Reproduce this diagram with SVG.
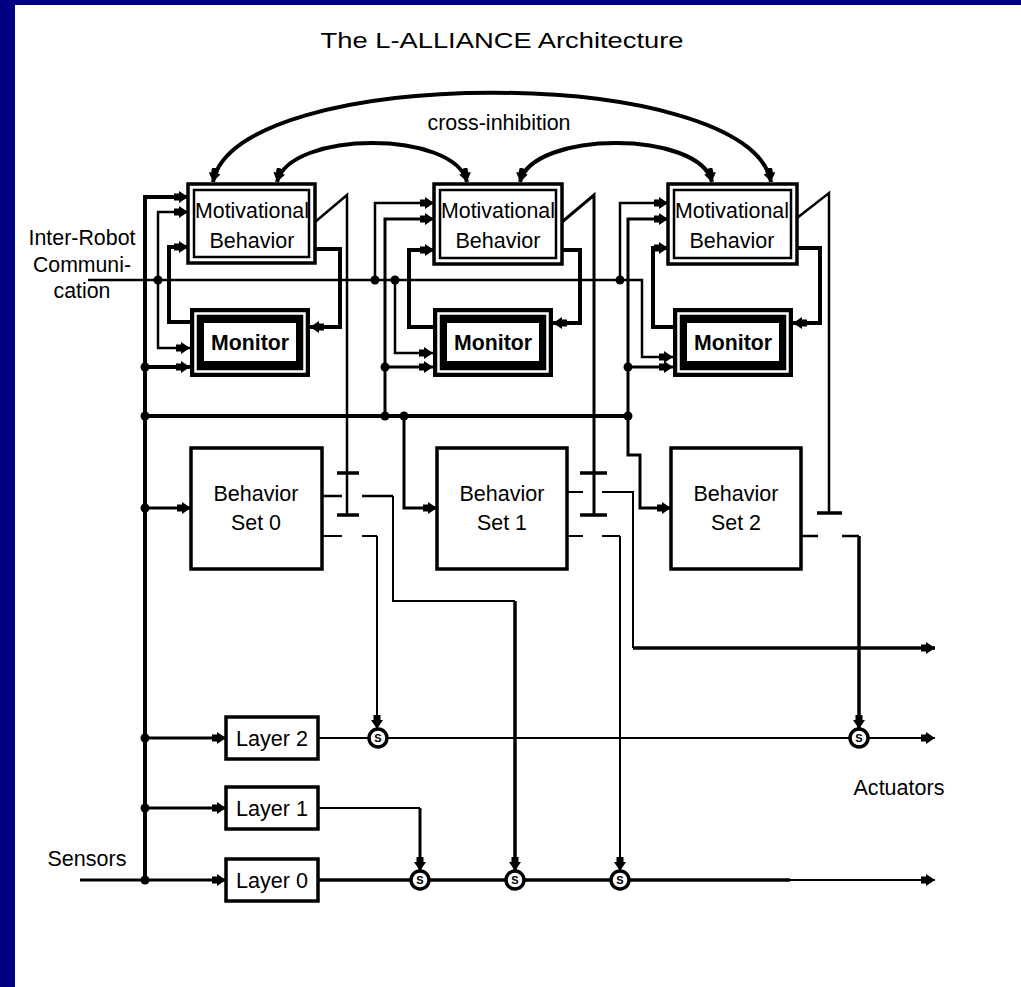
<svg xmlns="http://www.w3.org/2000/svg" width="1021" height="987" viewBox="0 0 1021 987">
<style>
text{font-family:"Liberation Sans",Arial,Helvetica,sans-serif;fill:#000;font-size:22.5px;text-anchor:middle}
.c{fill:none;stroke:#000;stroke-linejoin:miter;stroke-linecap:butt}
.w4{stroke-width:4}
.w35{stroke-width:3.5}
.w3{stroke-width:3}
.w25{stroke-width:2.5}
.w2{stroke-width:2}
.a{marker-end:url(#ah)}
.b{marker-start:url(#ah);marker-end:url(#ah)}
.box{fill:#fff;stroke:#000;stroke-width:3.5}
.inner{fill:none;stroke:#000;stroke-width:2.5}
.mon{fill:#000}
.monw{fill:none;stroke:#fff;stroke-width:2.5}
.monin{fill:#fff}
.bold{font-weight:bold}
.sw{fill:#fff;stroke:#000;stroke-width:3.5}
.st{font-size:11px;font-weight:bold}
</style>
<defs>
<marker id="ah" viewBox="0 0 14 12" refX="14" refY="6" markerWidth="14" markerHeight="12" markerUnits="userSpaceOnUse" orient="auto-start-reverse"><path d="M0,2.5H5V0L14,6L5,12V9.5H0Z" fill="#000"/></marker>
</defs>
<rect width="1021" height="987" fill="#000080"/>
<rect x="15" y="5" width="1006" height="982" fill="#fff"/>
<g id="title"><text x="502" y="48" font-size="28" textLength="363" lengthAdjust="spacingAndGlyphs">The L-ALLIANCE Architecture</text></g>
<g id="label-cross"><text x="499" y="130" textLength="143" lengthAdjust="spacingAndGlyphs">cross-inhibition</text></g>
<g id="label-comm"><text x="82" y="245" textLength="107" lengthAdjust="spacingAndGlyphs">Inter-Robot</text><text x="82" y="272" textLength="98" lengthAdjust="spacingAndGlyphs">Communi-</text><text x="82" y="298" textLength="57" lengthAdjust="spacingAndGlyphs">cation</text></g>
<g id="label-sensors"><text x="87" y="866" textLength="79" lengthAdjust="spacingAndGlyphs">Sensors</text></g>
<g id="label-actuators"><text x="899" y="795" textLength="91" lengthAdjust="spacingAndGlyphs">Actuators</text></g>

<g id="connectors">
<path class="c w4 b" d="M213,182C235,63 750,63 771,182"/>
<path class="c w4 b" d="M277,182C290,130 455,130 467,182"/>
<path class="c w4 b" d="M520,182C532,130 700,130 712,182"/>
<!-- column 0 -->
<path class="c w4 a" d="M145,880V197H188"/>
<path class="c w4 a" d="M145,367H190"/>
<path class="c w25 a" d="M158,280V212H188"/>
<path class="c w25 a" d="M158,280V348H190"/>
<path class="c w4 a" d="M190,322H169V247H188"/>
<path class="c w4 a" d="M315,249H340V327H310"/>
<path class="c w25" d="M315,222L347,195V515"/>
<path class="c w35" d="M337,473H359M337,515H359"/>
<!-- column 1 -->
<path class="c w3 a" d="M385,416V219H434"/>
<path class="c w3 a" d="M385,367H433"/>
<path class="c w25 a" d="M375,280V203H434"/>
<path class="c w25 a" d="M395,280V353H433"/>
<path class="c w4 a" d="M433,327H409V250H434"/>
<path class="c w4 a" d="M562,250H580V323H553"/>
<path class="c w3" d="M562,222L594,195V515"/>
<path class="c w35" d="M580,473H607M580,515H607"/>
<!-- column 2 -->
<path class="c w3 a" d="M628,416V219H668"/>
<path class="c w3 a" d="M628,367H673"/>
<path class="c w3 a" d="M628,416V455H640V508H671"/>
<path class="c w25 a" d="M620,280V203H668"/>
<path class="c w25 a" d="M88,280H642V357H673"/>
<path class="c w4 a" d="M673,327H653V248H668"/>
<path class="c w4 a" d="M797,248H820V323H793"/>
<path class="c w25" d="M797,218L829,193V513"/>
<path class="c w35" d="M817,513H842"/>
<!-- horizontal bus and behavior set inputs -->
<path class="c w4" d="M145,416H628"/>
<path class="c w3 a" d="M145,508H191"/>
<path class="c w3 a" d="M404,416V508H437"/>
<!-- behavior set outputs -->
<path class="c w25" d="M322,496H342M362,496H393"/>
<path class="c w2" d="M393,496V601H515"/>
<path class="c w35 a" d="M515,601V871"/>
<path class="c w2" d="M322,536H342M362,536H377"/>
<path class="c w2 a" d="M377,536V729"/>
<path class="c w2" d="M567,492H583M602,492H633V648"/>
<path class="c w35 a" d="M633,648H935"/>
<path class="c w2" d="M567,536H583M602,536H620"/>
<path class="c w2 a" d="M620,536V871"/>
<path class="c w25" d="M801,536H818M842,536H859"/>
<path class="c w35 a" d="M859,536V729"/>
<!-- layers -->
<path class="c w3 a" d="M145,738H226"/>
<path class="c w2 a" d="M318,738H935"/>
<path class="c w3 a" d="M145,808H226"/>
<path class="c w2" d="M318,808H420"/>
<path class="c w3 a" d="M420,808V871"/>
<path class="c w3 a" d="M80,880H226"/>
<path class="c w35" d="M318,880H790"/>
<path class="c w2 a" d="M790,880H935"/>
<!-- junction dots -->
<g fill="#000">
<circle cx="158" cy="280" r="4.5"/><circle cx="375" cy="280" r="4.5"/><circle cx="395" cy="280" r="4.5"/><circle cx="620" cy="280" r="4.5"/>
<circle cx="145" cy="367" r="4.5"/><circle cx="385" cy="367" r="4.5"/><circle cx="628" cy="367" r="4.5"/>
<circle cx="145" cy="416" r="4.5"/><circle cx="385" cy="416" r="4.5"/><circle cx="404" cy="416" r="4.5"/><circle cx="628" cy="416" r="4.5"/>
<circle cx="145" cy="508" r="4.5"/><circle cx="145" cy="738" r="4.5"/><circle cx="145" cy="808" r="4.5"/><circle cx="145" cy="880" r="4.5"/>
</g>
</g>

<g id="mb0"><rect class="box" x="188" y="184" width="127" height="79"/><rect class="inner" x="194" y="190" width="115" height="67"/><text x="252" y="218" textLength="114" lengthAdjust="spacingAndGlyphs">Motivational</text><text x="252" y="248" textLength="85" lengthAdjust="spacingAndGlyphs">Behavior</text></g>
<g id="mb1"><rect class="box" x="434" y="184" width="128" height="80"/><rect class="inner" x="440" y="190" width="116" height="68"/><text x="498" y="218" textLength="114" lengthAdjust="spacingAndGlyphs">Motivational</text><text x="498" y="248" textLength="85" lengthAdjust="spacingAndGlyphs">Behavior</text></g>
<g id="mb2"><rect class="box" x="668" y="184" width="129" height="80"/><rect class="inner" x="674" y="190" width="117" height="68"/><text x="732" y="218" textLength="114" lengthAdjust="spacingAndGlyphs">Motivational</text><text x="732" y="248" textLength="85" lengthAdjust="spacingAndGlyphs">Behavior</text></g>

<g id="monitor0"><rect class="mon" x="190" y="308" width="120" height="69"/><rect class="monw" x="195.5" y="313.5" width="109" height="58"/><rect class="monin" x="204" y="323" width="92" height="38"/><text class="bold" x="250" y="350" textLength="78" lengthAdjust="spacingAndGlyphs">Monitor</text></g>
<g id="monitor1"><rect class="mon" x="433" y="308" width="120" height="69"/><rect class="monw" x="438.5" y="313.5" width="109" height="58"/><rect class="monin" x="447" y="323" width="92" height="38"/><text class="bold" x="493" y="350" textLength="78" lengthAdjust="spacingAndGlyphs">Monitor</text></g>
<g id="monitor2"><rect class="mon" x="673" y="308" width="120" height="69"/><rect class="monw" x="678.5" y="313.5" width="109" height="58"/><rect class="monin" x="687" y="323" width="92" height="38"/><text class="bold" x="733" y="350" textLength="78" lengthAdjust="spacingAndGlyphs">Monitor</text></g>

<g id="bs0"><rect class="box" x="191" y="448" width="131" height="121"/><text x="256" y="501" textLength="85" lengthAdjust="spacingAndGlyphs">Behavior</text><text x="256" y="530" textLength="50" lengthAdjust="spacingAndGlyphs">Set 0</text></g>
<g id="bs1"><rect class="box" x="437" y="448" width="130" height="121"/><text x="502" y="501" textLength="85" lengthAdjust="spacingAndGlyphs">Behavior</text><text x="502" y="530" textLength="50" lengthAdjust="spacingAndGlyphs">Set 1</text></g>
<g id="bs2"><rect class="box" x="671" y="448" width="130" height="121"/><text x="736" y="501" textLength="85" lengthAdjust="spacingAndGlyphs">Behavior</text><text x="736" y="530" textLength="50" lengthAdjust="spacingAndGlyphs">Set 2</text></g>

<g id="layer2"><rect class="box" x="226" y="717" width="92" height="42"/><text x="272" y="746" textLength="72" lengthAdjust="spacingAndGlyphs">Layer 2</text></g>
<g id="layer1"><rect class="box" x="226" y="787" width="92" height="42"/><text x="272" y="816" textLength="72" lengthAdjust="spacingAndGlyphs">Layer 1</text></g>
<g id="layer0"><rect class="box" x="226" y="859" width="92" height="42"/><text x="272" y="888" textLength="72" lengthAdjust="spacingAndGlyphs">Layer 0</text></g>

<g id="s-nodes">
<g id="s1"><circle class="sw" cx="378" cy="738" r="9"/><text class="st" x="378" y="742">S</text></g>
<g id="s2"><circle class="sw" cx="859" cy="738" r="9"/><text class="st" x="859" y="742">S</text></g>
<g id="s3"><circle class="sw" cx="420" cy="880" r="9"/><text class="st" x="420" y="884">S</text></g>
<g id="s4"><circle class="sw" cx="515" cy="880" r="9"/><text class="st" x="515" y="884">S</text></g>
<g id="s5"><circle class="sw" cx="620" cy="880" r="9"/><text class="st" x="620" y="884">S</text></g>
</g>
</svg>
